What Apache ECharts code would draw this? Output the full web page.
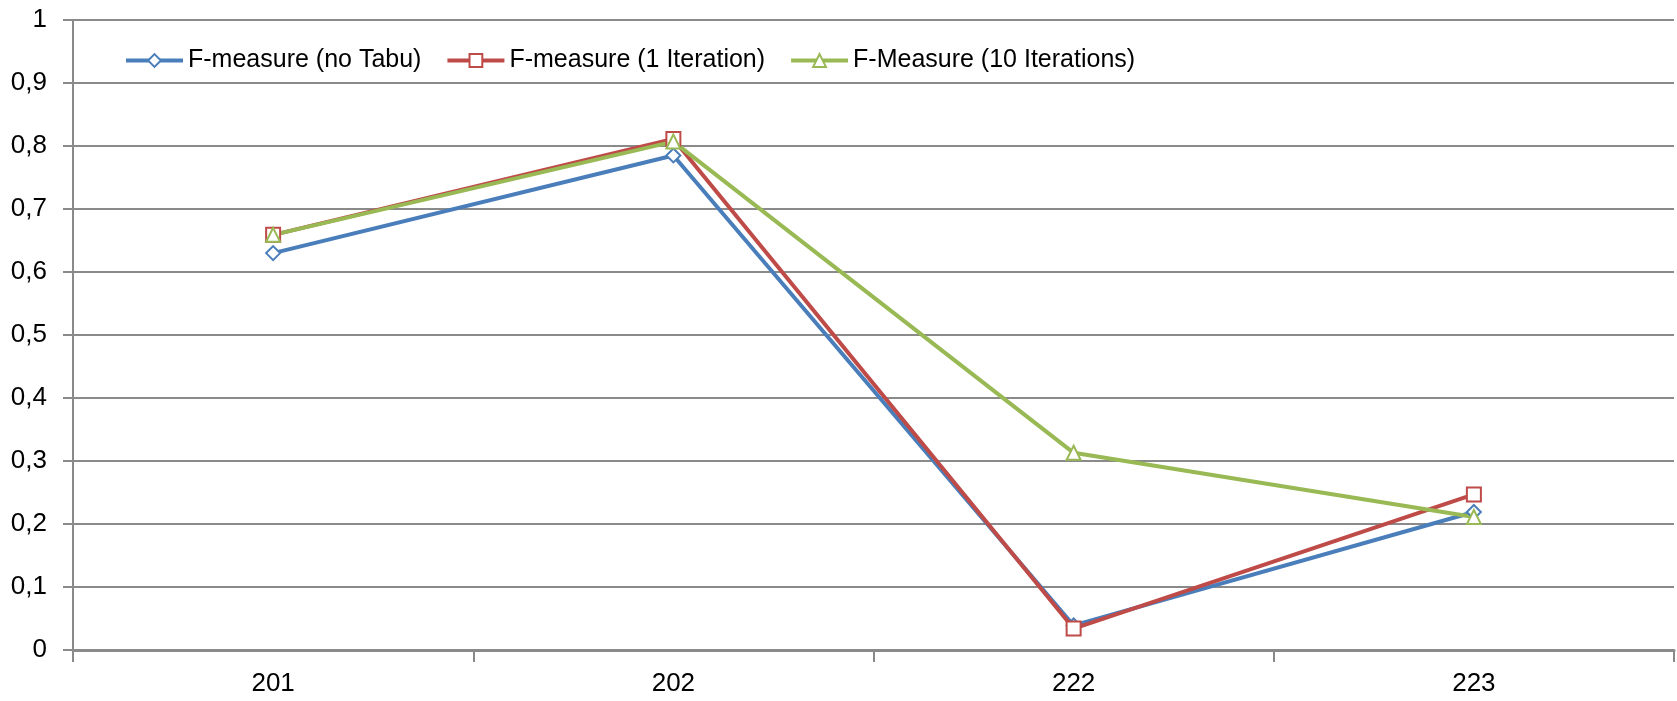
<!DOCTYPE html>
<html>
<head>
<meta charset="utf-8">
<script src="https://cdn.jsdelivr.net/npm/echarts@6/dist/echarts.min.js"></script>
<style>
  html, body { margin: 0; padding: 0; background: #fff; }
  #chart { width: 1677px; height: 701px; }
</style>
</head>
<body>
<div id="chart"></div>
<script>
// Test categories and F-measure scores per configuration
const categories = ['201', '202', '222', '223'];
const noTabu = [0.630, 0.785, 0.039, 0.219];
const oneIteration = [0.659, 0.811, 0.034, 0.247];
const tenIterations = [0.659, 0.807, 0.313, 0.211];
const seriesNames = ['F-measure (no Tabu)', 'F-measure (1 Iteration)', 'F-Measure (10 Iterations)'];

const FONT = '"Liberation Sans", Arial, sans-serif';
const GRID_COLOR = '#8a8a8a';

function lineSeries(name, data, color, symbol, size) {
  return {
    name: name,
    type: 'line',
    data: data,
    symbol: symbol,
    symbolSize: size,
    showAllSymbol: true,
    lineStyle: { color: color, width: 4 },
    itemStyle: { color: color, borderColor: color, borderWidth: 2.2 },
    emphasis: { disabled: true }
  };
}

const chart = echarts.init(document.getElementById('chart'));
chart.setOption({
  animation: false,
  backgroundColor: '#ffffff',
  textStyle: { fontFamily: FONT },
  grid: { left: 73, right: 3, top: 20, bottom: 51 },
  legend: {
    left: 119,
    top: 43,
    itemWidth: 57,
    itemHeight: 16,
    itemGap: 24,
    lineStyle: { width: 4 },
    textStyle: { fontFamily: FONT, fontSize: 25, color: '#000' },
    data: seriesNames
  },
  xAxis: {
    type: 'category',
    data: categories,
    boundaryGap: true,
    axisLine: { lineStyle: { color: GRID_COLOR, width: 3 } },
    axisTick: { show: true, length: 12, alignWithLabel: false, lineStyle: { color: GRID_COLOR, width: 2 } },
    axisLabel: { fontFamily: FONT, fontSize: 26, color: '#000', margin: 21 },
    splitLine: { show: false }
  },
  yAxis: {
    type: 'value',
    min: 0,
    max: 1,
    interval: 0.1,
    axisLine: { show: true, lineStyle: { color: GRID_COLOR, width: 2 } },
    axisTick: { show: true, inside: false, length: 10, lineStyle: { color: GRID_COLOR, width: 2 } },
    axisLabel: {
      fontFamily: FONT, fontSize: 26, color: '#000', margin: 26,
      formatter: v => (Math.round(v * 10) / 10).toString().replace('.', ',')
    },
    splitLine: { show: true, lineStyle: { color: GRID_COLOR, width: 2 } }
  },
  series: [
    lineSeries(seriesNames[0], noTabu, '#4a7ebb', 'emptyDiamond', 14),
    lineSeries(seriesNames[1], oneIteration, '#be4b48', 'emptyRect', 14),
    lineSeries(seriesNames[2], tenIterations, '#98b954', 'emptyTriangle', 14)
  ]
});
</script>
</body>
</html>
